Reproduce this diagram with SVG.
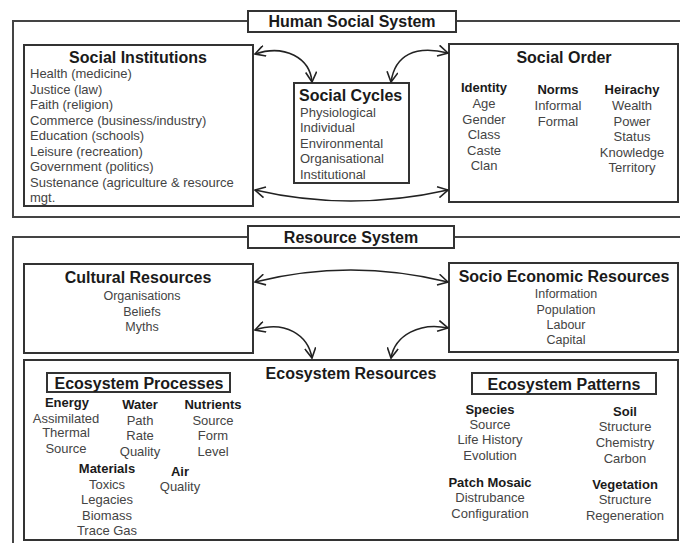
<svg xmlns="http://www.w3.org/2000/svg" width="680" height="543" viewBox="0 0 680 543">
<style>
.box{fill:#fff;stroke:#333;stroke-width:2}
.outer{fill:none;stroke:#444;stroke-width:2}
.t{font-family:"Liberation Sans",Arial,sans-serif;font-weight:bold;font-size:16px;fill:#1a1a1a}
.h{font-family:"Liberation Sans",Arial,sans-serif;font-weight:bold;font-size:13px;fill:#1a1a1a;text-anchor:middle}
.i{font-family:"Liberation Sans",Arial,sans-serif;font-size:13px;fill:#444}
.s{font-size:12.5px}
.c{text-anchor:middle}
.conn{fill:none;stroke:#222;stroke-width:1.6;marker-start:url(#ah);marker-end:url(#ah)}
</style>
<defs>
<marker id="ah" viewBox="0 0 12 12" refX="11" refY="6" markerWidth="12" markerHeight="12" markerUnits="userSpaceOnUse" orient="auto-start-reverse">
<path d="M1,0.5 L11,6 L1,11.5" fill="none" stroke="#222" stroke-width="1.6"/>
</marker>
</defs>
<rect width="680" height="543" fill="#fff"/>

<g id="human-social-system">
<rect class="outer" x="13" y="21" width="680" height="196"/>
<rect class="box" x="248" y="11" width="208" height="21"/>
<text class="t c" x="352" y="27">Human Social System</text>
</g>

<g id="social-institutions">
<rect class="box" x="24" y="45" width="229" height="161"/>
<text class="t c" x="138" y="63">Social Institutions</text>
<text class="i" x="30" y="78">Health (medicine)</text>
<text class="i" x="30" y="93.5">Justice (law)</text>
<text class="i" x="30" y="109">Faith (religion)</text>
<text class="i" x="30" y="124.5">Commerce (business/industry)</text>
<text class="i" x="30" y="140">Education (schools)</text>
<text class="i" x="30" y="155.5">Leisure (recreation)</text>
<text class="i" x="30" y="171">Government (politics)</text>
<text class="i" x="30" y="186.5">Sustenance (agriculture &amp; resource</text>
<text class="i" x="30" y="202">mgt.</text>
</g>

<g id="social-cycles">
<rect class="box" x="294" y="83" width="115" height="100"/>
<text class="t" x="299" y="101">Social Cycles</text>
<text class="i" x="300" y="117">Physiological</text>
<text class="i" x="300" y="132">Individual</text>
<text class="i" x="300" y="148">Environmental</text>
<text class="i" x="300" y="163">Organisational</text>
<text class="i" x="300" y="179">Institutional</text>
</g>

<g id="social-order">
<rect class="box" x="449" y="44" width="229" height="158"/>
<text class="t c" x="564" y="63">Social Order</text>
<text class="h" x="484" y="92">Identity</text>
<text class="i c" x="484" y="108">Age</text>
<text class="i c" x="484" y="123.5">Gender</text>
<text class="i c" x="484" y="139">Class</text>
<text class="i c" x="484" y="154.5">Caste</text>
<text class="i c" x="484" y="170">Clan</text>
<text class="h" x="558" y="94">Norms</text>
<text class="i c" x="558" y="110">Informal</text>
<text class="i c" x="558" y="126">Formal</text>
<text class="h" x="632" y="94">Heirachy</text>
<text class="i c" x="632" y="110">Wealth</text>
<text class="i c" x="632" y="125.5">Power</text>
<text class="i c" x="632" y="141">Status</text>
<text class="i c" x="632" y="156.5">Knowledge</text>
<text class="i c" x="632" y="172">Territory</text>
</g>

<g id="resource-system">
<rect class="outer" x="13" y="237" width="680" height="320"/>
<rect class="box" x="248" y="226" width="206" height="22"/>
<text class="t c" x="351" y="243">Resource System</text>
</g>

<g id="cultural-resources">
<rect class="box" x="24" y="264" width="229" height="89"/>
<text class="t c" x="138" y="283">Cultural Resources</text>
<text class="i s c" x="142" y="300">Organisations</text>
<text class="i s c" x="142" y="316">Beliefs</text>
<text class="i s c" x="142" y="331">Myths</text>
</g>

<g id="socio-economic-resources">
<rect class="box" x="449" y="263" width="229" height="89"/>
<text class="t c" x="564" y="282">Socio Economic Resources</text>
<text class="i s c" x="566" y="298">Information</text>
<text class="i s c" x="566" y="313.5">Population</text>
<text class="i s c" x="566" y="329">Labour</text>
<text class="i s c" x="566" y="344">Capital</text>
</g>

<g id="ecosystem-resources">
<rect class="box" x="24" y="360" width="654" height="180"/>
<text class="t c" x="351" y="379">Ecosystem Resources</text>
</g>

<g id="ecosystem-processes">
<rect class="box" x="47" y="373" width="183" height="19"/>
<text class="t c" x="139" y="389">Ecosystem Processes</text>
<text class="h" x="67" y="407">Energy</text>
<text class="i c" x="66" y="423">Assimilated</text>
<text class="i c" x="66" y="437">Thermal</text>
<text class="i c" x="66" y="453">Source</text>
<text class="h" x="140" y="409">Water</text>
<text class="i c" x="140" y="425">Path</text>
<text class="i c" x="140" y="440">Rate</text>
<text class="i c" x="140" y="456">Quality</text>
<text class="h" x="213" y="409">Nutrients</text>
<text class="i c" x="213" y="425">Source</text>
<text class="i c" x="213" y="440">Form</text>
<text class="i c" x="213" y="456">Level</text>
<text class="h" x="107" y="473">Materials</text>
<text class="i c" x="107" y="489">Toxics</text>
<text class="i c" x="107" y="504">Legacies</text>
<text class="i c" x="107" y="520">Biomass</text>
<text class="i c" x="107" y="535">Trace Gas</text>
<text class="h" x="180" y="476">Air</text>
<text class="i c" x="180" y="491">Quality</text>
</g>

<g id="ecosystem-patterns">
<rect class="box" x="472" y="373" width="184" height="21"/>
<text class="t c" x="564" y="390">Ecosystem Patterns</text>
<text class="h" x="490" y="414">Species</text>
<text class="i c" x="490" y="429">Source</text>
<text class="i c" x="490" y="444">Life History</text>
<text class="i c" x="490" y="460">Evolution</text>
<text class="h" x="625" y="416">Soil</text>
<text class="i c" x="625" y="431">Structure</text>
<text class="i c" x="625" y="447">Chemistry</text>
<text class="i c" x="625" y="463">Carbon</text>
<text class="h" x="490" y="487">Patch Mosaic</text>
<text class="i c" x="490" y="502">Distrubance</text>
<text class="i c" x="490" y="518">Configuration</text>
<text class="h" x="625" y="489">Vegetation</text>
<text class="i c" x="625" y="504">Structure</text>
<text class="i c" x="625" y="520">Regeneration</text>
</g>

<g id="connectors">
<path class="conn" d="M255,54 C285,44 310,58 312,82"/>
<path class="conn" d="M391,82 C395,55 415,45 448,53"/>
<path class="conn" d="M255,190 Q350,212 448,190"/>
<path class="conn" d="M255,282 Q350,258 448,282"/>
<path class="conn" d="M255,330 C285,320 308,335 312,358"/>
<path class="conn" d="M448,328 C420,322 395,335 391,358"/>
</g>
</svg>
